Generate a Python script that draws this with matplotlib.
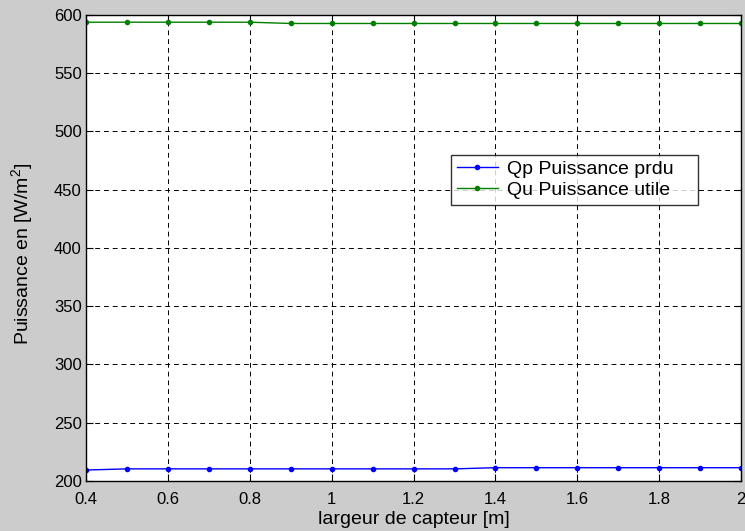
import matplotlib
matplotlib.use("Agg")
import matplotlib.pyplot as plt

# Collector width sweep and the two power curves
largeur = [0.4, 0.5, 0.6, 0.7, 0.8, 0.9, 1.0, 1.1, 1.2, 1.3, 1.4, 1.5, 1.6, 1.7, 1.8, 1.9, 2.0]
qp_perdue = [209.4, 210.4, 210.4, 210.4, 210.4, 210.4, 210.4, 210.4, 210.4, 210.4,
             211.4, 211.4, 211.4, 211.4, 211.4, 211.4, 211.4]
qu_utile = [593.8, 593.8, 593.8, 593.8, 593.8, 592.7, 592.7, 592.7, 592.7, 592.7,
            592.7, 592.7, 592.7, 592.7, 592.7, 592.7, 592.7]

xticks = [0.4, 0.6, 0.8, 1.0, 1.2, 1.4, 1.6, 1.8, 2.0]
xticklabels = ["0.4", "0.6", "0.8", "1", "1.2", "1.4", "1.6", "1.8", "2"]
yticks = [200, 250, 300, 350, 400, 450, 500, 550, 600]

family = "Liberation Sans"
plt.rcParams["font.family"] = family
plt.rcParams["mathtext.fontset"] = "custom"
plt.rcParams["mathtext.rm"] = family

fig = plt.figure(figsize=(7.45, 5.31), dpi=100, facecolor="#cccccc")
ax = fig.add_axes([0.1154, 0.0942, 0.8795, 0.8776])
ax.set_facecolor("white")

ax.plot(largeur, qp_perdue, color="#0000ff", lw=1.0, marker=".", ms=6,
        label="Qp Puissance prdu")
ax.plot(largeur, qu_utile, color="#008000", lw=1.0, marker=".", ms=6,
        label="Qu Puissance utile")

ax.set_xlim(0.4, 2.0)
ax.set_ylim(200, 600)
ax.set_xticks(xticks)
ax.set_xticklabels(xticklabels)
ax.set_yticks(yticks)

ax.grid(True, color="black", linestyle=(0, (5, 4)), linewidth=0.7)
ax.tick_params(direction="in", length=5, top=True, right=True, labelsize=12,
               colors="black")
ax.tick_params(axis="x", pad=8)
ax.tick_params(axis="y", pad=3)
for s in ax.spines.values():
    s.set_color("black")
    s.set_linewidth(1.0)

ax.set_xlabel("largeur de capteur [m]", fontsize=14, labelpad=3)
ax.set_ylabel("Puissance en [W/m$^2$]", fontsize=14)
ax.yaxis.set_label_coords(-0.077, 0.487)

# Legend box stretched to a fixed width so the frame leaves room on the right
leg_w = 0.377
leg_h = 0.107
leg = ax.legend(loc="upper left", bbox_to_anchor=(0.557, 0.70 - leg_h, leg_w, leg_h),
                mode="expand", fontsize=14, frameon=True, fancybox=False,
                borderaxespad=0, handlelength=2.1, handletextpad=0.5,
                borderpad=0.3, labelspacing=0.15)
leg.get_frame().set_edgecolor("black")
leg.get_frame().set_linewidth(1.0)

fig.savefig("out.png", dpi=100, facecolor=fig.get_facecolor())
